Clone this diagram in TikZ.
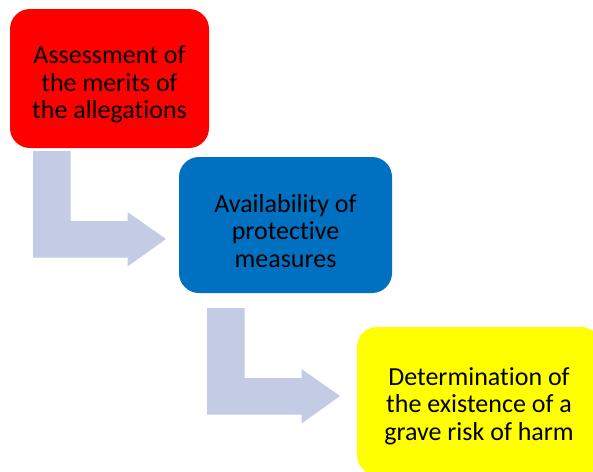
\documentclass[tikz,border=0pt]{standalone}
\usepackage{fontspec}
\setmainfont{Carlito}[Ligatures=NoCommon]
\usepackage{tikz}
\usetikzlibrary{positioning}

\definecolor{stepred}{HTML}{FF0000}
\definecolor{stepblue}{HTML}{0070C0}
\definecolor{stepyellow}{HTML}{FFFF00}
\definecolor{arrowgrey}{HTML}{C3CBE5}

\tikzset{
  stagebox/.style={rounded corners=20pt, inner sep=0pt},
  stagetext/.style={align=center, inner sep=0pt, yshift=-6pt,
    font=\fontsize{26}{27.5}\selectfont, text=black},
  bentarrow/.style={fill=arrowgrey, draw=none}
}

\begin{document}
\begin{tikzpicture}[x=1pt,y=-1pt]
  \clip (0,0) rectangle (593,471);
  \useasboundingbox (0,0) rectangle (593,471);

  % stages
  \node[stagebox, fill=stepred, minimum width=199pt, minimum height=139pt]
    (assess) at (109.5,78.5) {};
  \node[stagebox, fill=stepblue, minimum width=213pt, minimum height=136pt]
    (avail) at (285.5,225) {};
  \node[stagebox, fill=stepyellow, minimum width=244pt, minimum height=148pt]
    (grave) at (479,401) {};

  % stage texts
  \node[stagetext] (assesstext) at (assess.center)
    {Assessment of\\the merits of\\the allegations};
  \node[stagetext] (availtext) at (avail.center)
    {Availability of\\protective\\measures};
  \node[stagetext, yshift=1pt] (gravetext) at (grave.center)
    {Determination of\\the existence of a\\grave risk of harm};

  % bent arrows between the stages
  \foreach \x/\y in {33/151,207/308}
  {
    \fill[bentarrow] (\x,\y) -- ++(37.5,0) -- ++(0,70) -- ++(57,0)
      -- ++(0,-9) -- ++(38.5,27) -- ++(-38.5,27.5) -- ++(0,-9)
      -- ++(-94.5,0) -- cycle;
  }
\end{tikzpicture}
\end{document}
